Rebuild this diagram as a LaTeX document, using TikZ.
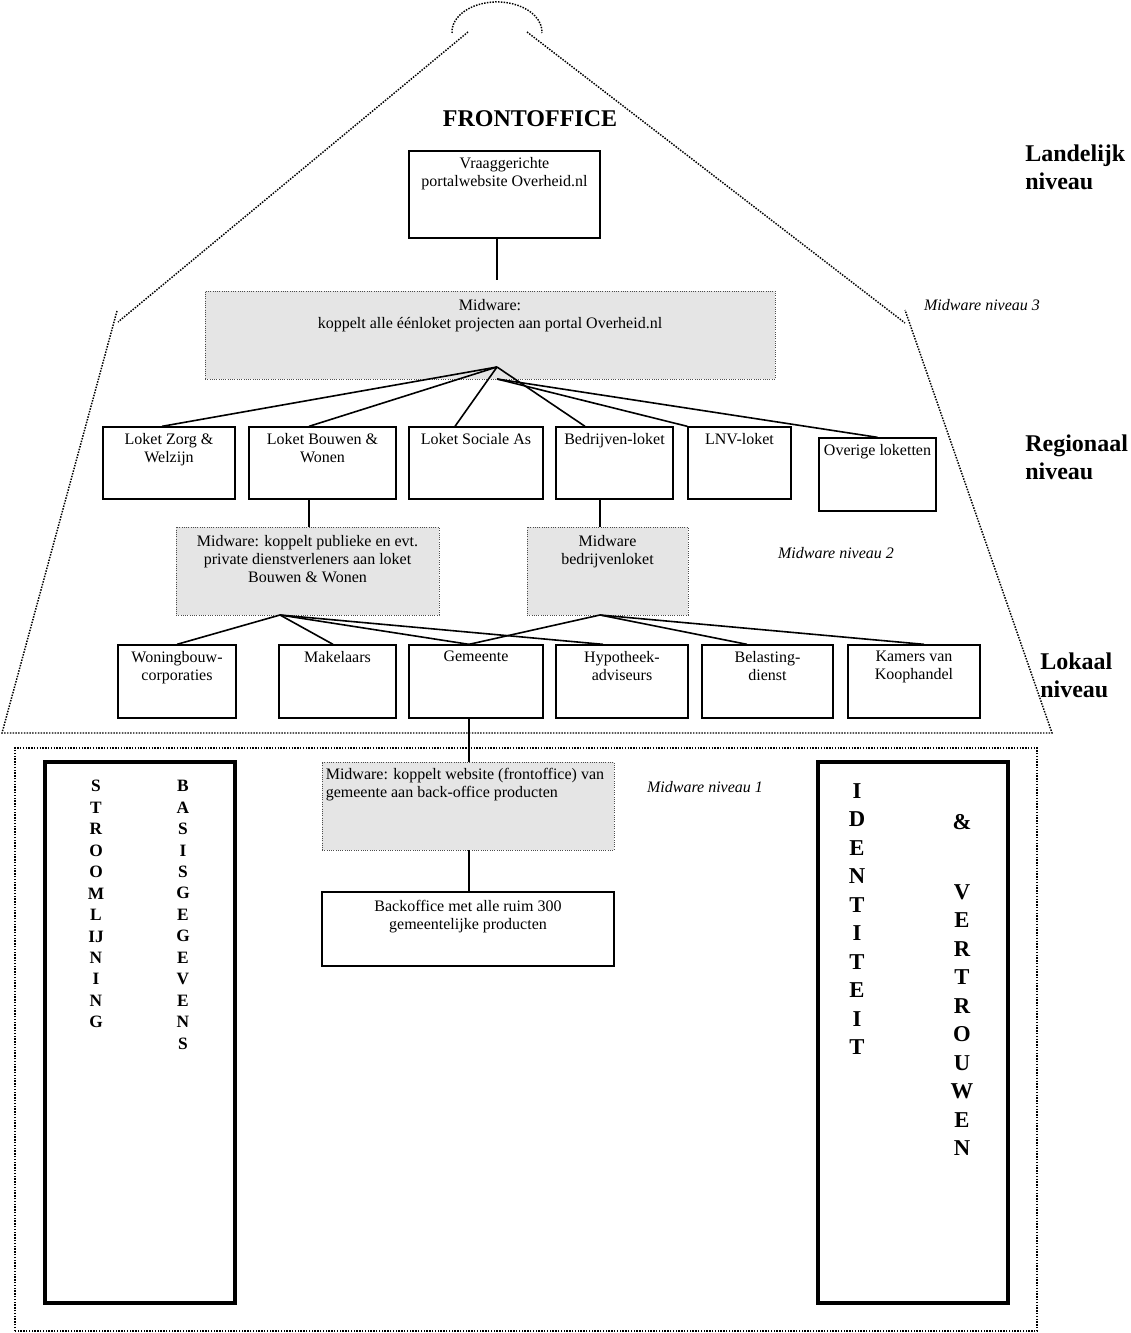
\documentclass[tikz,border=0pt]{standalone}
\usepackage{fontspec}
\setmainfont{Liberation Serif}
\usetikzlibrary{fit,positioning}

\begin{document}
\begin{tikzpicture}[x=0.75pt, y=-0.75pt,
  box/.style={draw, line width=1pt, inner sep=0pt},
  midbox/.style={draw=black!70, densely dotted, line width=0.7pt, fill=gray!20, inner sep=0pt},
  pillar/.style={draw, line width=2.8pt, inner sep=0pt},
  txt/.style={anchor=north, align=center, inner xsep=0pt, inner ysep=5pt, font=\fontsize{12}{13.5}\selectfont},
  niv/.style={anchor=north west, align=left, inner sep=0pt, font=\fontsize{18}{21}\selectfont\bfseries},
  mwlabel/.style={inner sep=0pt, font=\fontsize{12}{14}\selectfont\itshape},
  letters/.style={anchor=north, align=center, inner sep=0pt, font=\fontsize{13}{16.1}\selectfont\bfseries},
  bigletters/.style={anchor=north, align=center, inner sep=0pt, font=\fontsize{17}{21.4}\selectfont\bfseries},
  outline/.style={densely dotted, line width=1.1pt},
  link/.style={line width=1.2pt}]
  \useasboundingbox (0,0) rectangle (1130,1333);

  % dak en muren
  \draw[outline] (452,33) arc[start angle=178, end angle=362, x radius=45, y radius=30];
  \draw[outline] (468,32) -- (118,322);
  \draw[outline] (527,32) -- (905,323);
  \draw[outline] (117,311) -- (2,733) -- (1052,733) -- (905,310);
  \draw[outline] (15,1331) rectangle (1037,748);

  % niveaus
  \node[font=\fontsize{18}{21}\selectfont\bfseries] (front) at (530,119) {FRONTOFFICE};
  \node[niv] (landelijk) at (1025,145) {Landelijk\\niveau};
  \node[niv] (regionaal) at (1025,435) {Regionaal\\niveau};
  \node[niv] (lokaal) at (1040,653) {Lokaal\\niveau};
  \node[mwlabel] (niv3) at (982,305) {Midware niveau 3};
  \node[mwlabel] (niv2) at (836,553) {Midware niveau 2};
  \node[mwlabel] (niv1) at (705,787) {Midware niveau 1};

  % landelijk
  \node[box, fit={(409,151) (600,238)}] (portal) {};
  \node[txt] (portaltxt) at (portal.north) {Vraaggerichte\\portalwebsite Overheid.nl};
  \node[midbox, fit={(205,291) (775,379)}] (mw3) {};
  \node[txt, inner ysep=6.5pt] (mw3txt) at (mw3.north) {Midware:\\koppelt alle éénloket projecten aan portal Overheid.nl};
  \coordinate (hub3) at (497,367);
  \coordinate (hub3b) at (497,379);

  % regionaal
  \node[box, fit={(103,427) (235,499)}] (zorg) {};
  \node[box, fit={(249,427) (396,499)}] (bouwen) {};
  \node[box, fit={(409,427) (543,499)}] (sociaal) {};
  \node[box, fit={(556,427) (673,499)}] (bedrijf) {};
  \node[box, fit={(688,427) (791,499)}] (lnv) {};
  \node[box, fit={(819,438) (936,511)}] (overig) {};
  \node[txt] (zorgtxt) at (zorg.north) {Loket Zorg \&\\Welzijn};
  \node[txt] (bouwentxt) at (bouwen.north) {Loket Bouwen \&\\Wonen};
  \node[txt] (sociaaltxt) at (sociaal.north) {Loket Sociale As};
  \node[txt] (bedrijftxt) at (bedrijf.north) {Bedrijven-loket};
  \node[txt] (lnvtxt) at (lnv.north) {LNV-loket};
  \node[txt] (overigtxt) at (overig.north) {Overige loketten};

  \node[midbox, fit={(176,527) (439,615)}] (mw2a) {};
  \node[txt, inner ysep=6.5pt] (mw2atxt) at (mw2a.north) {Midware: koppelt publieke en evt.\\private dienstverleners aan loket\\Bouwen \& Wonen};
  \node[midbox, fit={(527,527) (688,615)}] (mw2b) {};
  \node[txt, inner ysep=6.5pt] (mw2btxt) at (mw2b.north) {Midware\\bedrijvenloket};
  \coordinate (hub2a) at (280,615);
  \coordinate (hub2b) at (600,615);

  % lokaal
  \node[box, fit={(118,645) (236,718)}] (woning) {};
  \node[box, fit={(279,645) (396,718)}] (makelaar) {};
  \node[box, fit={(409,645) (543,718)}] (gemeente) {};
  \node[box, fit={(556,645) (688,718)}] (hypo) {};
  \node[box, fit={(702,645) (833,718)}] (belasting) {};
  \node[box, fit={(848,645) (980,718)}] (kamers) {};
  \node[txt] (woningtxt) at (woning.north) {Woningbouw-\\corporaties};
  \node[txt] (makelaartxt) at (makelaar.north) {Makelaars};
  \node[txt] (gemeentetxt) at (gemeente.north) {Gemeente};
  \node[txt] (hypotxt) at (hypo.north) {Hypotheek-\\adviseurs};
  \node[txt] (belastingtxt) at (belasting.north) {Belasting-\\dienst};
  \node[txt] (kamerstxt) at (kamers.north) {Kamers van\\Koophandel};

  % gemeente
  \node[midbox, fit={(322,762) (614,850)}] (mw1) {};
  \node[txt, anchor=north west, align=left, inner xsep=3pt] (mw1txt) at (mw1.north west) {Midware: koppelt website (frontoffice) van\\gemeente aan back-office producten};
  \node[box, fit={(322,892) (614,966)}] (back) {};
  \node[txt, inner ysep=6.5pt] (backtxt) at (back.north) {Backoffice met alle ruim 300\\gemeentelijke producten};

  % pijlers
  \node[pillar, fit={(45,762) (235,1303)}] (links) {};
  \node[pillar, fit={(818,762) (1008,1303)}] (rechts) {};
  \node[letters] (strooml) at (96,780) {S\\T\\R\\O\\O\\M\\L\\IJ\\N\\I\\N\\G};
  \node[letters] (basis) at (183,780) {B\\A\\S\\I\\S\\G\\E\\G\\E\\V\\E\\N\\S};
  \node[bigletters] (ident) at (857,783) {I\\D\\E\\N\\T\\I\\T\\E\\I\\T};
  \node[bigletters] (en) at (962,814) {\&};
  \node[bigletters] (vertr) at (962,884) {V\\E\\R\\T\\R\\O\\U\\W\\E\\N};

  % verbindingen
  \draw[link, shorten >=8pt] (portal.south -| hub3) -- (mw3.north -| hub3);
  \foreach \b/\x in {zorg/162, bouwen/309, sociaal/455, bedrijf/585}
    \draw[link] (hub3) -- (\b.north -| \x,0);
  \draw[link] (hub3b) -- (lnv.north west);
  \draw[link] (hub3b) -- (overig.north);
  \draw[link] (bouwen.south -| 309,0) -- (mw2a.north -| 309,0);
  \draw[link] (bedrijf.south -| hub2b) -- (mw2b.north -| hub2b);
  \foreach \b/\x in {woning/177, makelaar/333, gemeente/469, hypo/603}
    \draw[link] (hub2a) -- (\b.north -| \x,0);
  \foreach \b/\x in {gemeente/469, belasting/747, kamers/924}
    \draw[link] (hub2b) -- (\b.north -| \x,0);
  \draw[link] (gemeente.south -| 469,0) -- (mw1.north -| 469,0);
  \draw[link] (mw1.south -| 469,0) -- (back.north -| 469,0);
\end{tikzpicture}
\end{document}
